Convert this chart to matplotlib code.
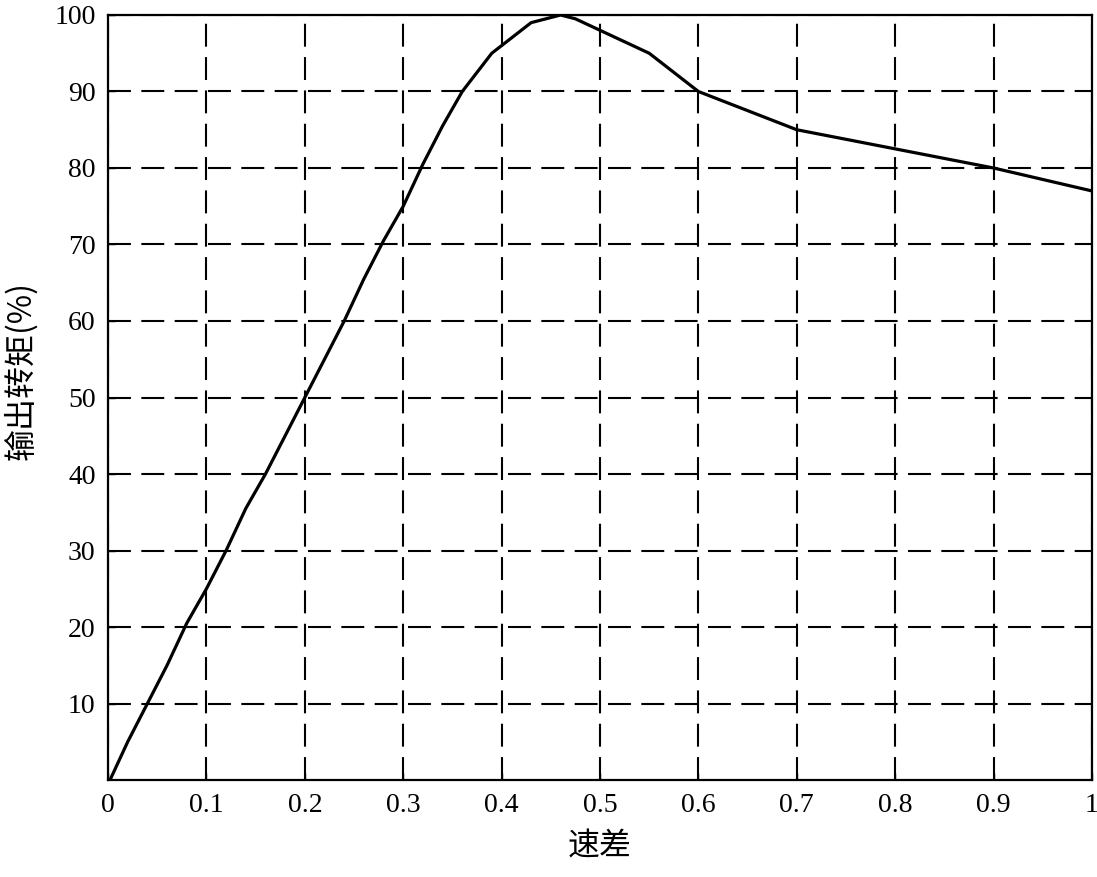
import matplotlib
matplotlib.use('Agg')
import matplotlib.pyplot as plt

# 速差 - 输出转矩 曲线
speed_diff = [0.002, 0.02, 0.04, 0.06, 0.08, 0.10, 0.12, 0.14, 0.16, 0.18, 0.20,
              0.22, 0.24, 0.26, 0.28, 0.30, 0.32, 0.34, 0.36, 0.39, 0.40, 0.43,
              0.46, 0.475, 0.55, 0.60, 0.65, 0.70, 0.80, 0.90, 1.00]
torque = [0, 5, 10, 15, 20.5, 25, 30, 35.5, 40, 45, 50,
          55, 60, 65.5, 70.5, 75, 80.5, 85.5, 90, 95, 96, 99,
          100, 99.5, 95, 90, 87.5, 85, 82.5, 80, 77]

x_ticks = [0, 0.1, 0.2, 0.3, 0.4, 0.5, 0.6, 0.7, 0.8, 0.9, 1]
x_tick_labels = ['0', '0.1', '0.2', '0.3', '0.4', '0.5', '0.6', '0.7', '0.8', '0.9', '1']
y_ticks = [10, 20, 30, 40, 50, 60, 70, 80, 90, 100]

plt.rcParams['font.family'] = ['Liberation Serif', 'Noto Sans CJK SC']

fig = plt.figure(figsize=(10.97, 8.77), dpi=100)
ax = fig.add_axes([0.0985, 0.1106, 0.8969, 0.8723])

ax.plot(speed_diff, torque, color='black', linewidth=2.3)

ax.set_xlim(0, 1)
ax.set_ylim(0, 100)
ax.set_xticks(x_ticks)
ax.set_xticklabels(x_tick_labels)
ax.set_yticks(y_ticks)
ax.tick_params(direction='in', labelsize=20, length=5, width=1, pad=9)

ax.grid(True, color='black', linestyle=(0, (11, 5)), linewidth=1.5)
for s in ax.spines.values():
    s.set_linewidth(1.6)

ax.set_xlabel('速差', fontsize=23, family=['Noto Sans CJK SC'], labelpad=9)
ax.set_ylabel('输出转矩(%)', fontsize=23, family=['Noto Sans CJK SC', 'Liberation Serif'])
ax.yaxis.set_label_coords(-0.072, 0.535)

fig.savefig('out.png', dpi=100)
